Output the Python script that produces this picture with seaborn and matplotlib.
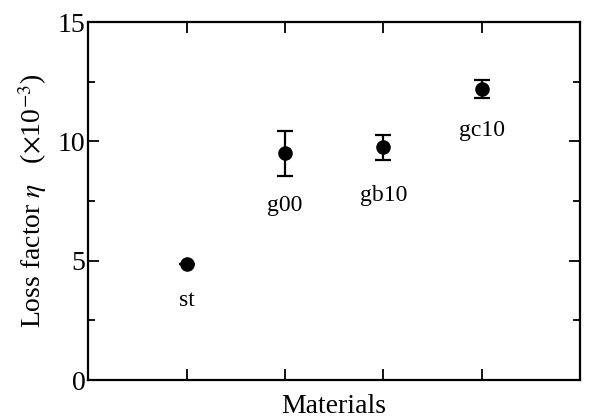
import matplotlib
matplotlib.use("Agg")
import matplotlib.pyplot as plt
import seaborn as sns
import pandas as pd
from matplotlib.ticker import MultipleLocator

materials = ["st", "g00", "gb10", "gc10"]
loss_factor = [4.85, 9.5, 9.75, 12.2]
errors = [0.0, 0.95, 0.52, 0.36]
label_y = [3.35, 7.3, 7.75, 10.47]

sns.set_theme(style="ticks")
plt.rcParams['font.family'] = ['Liberation Serif', 'DejaVu Serif']
plt.rcParams['mathtext.fontset'] = 'stix'
plt.rcParams['text.color'] = 'black'
plt.rcParams['axes.labelcolor'] = 'black'

df = pd.DataFrame({"material": materials, "loss": loss_factor, "err": errors})

fig = plt.figure(figsize=(5.92, 4.19), dpi=100)
ax = fig.add_axes([0.149, 0.093, 0.831, 0.854])

ax.errorbar(range(len(materials)), df["loss"], yerr=df["err"], fmt="none",
            ecolor="black", elinewidth=1.6, capsize=6, capthick=1.6, zorder=2)
sns.scatterplot(data=df, x="material", y="loss", ax=ax, color="black",
                s=110, edgecolor="black", linewidth=0, zorder=3, legend=False)

for i, (m, ly) in enumerate(zip(materials, label_y)):
    ax.text(i, ly, m, ha="center", va="center", fontsize=17, color="black")

ax.set_xlim(-1, 4)
ax.set_ylim(0, 15)
ax.set_xticks(range(len(materials)))
ax.set_xticklabels([])
ax.yaxis.set_major_locator(MultipleLocator(5))
ax.yaxis.set_minor_locator(MultipleLocator(2.5))
ax.tick_params(axis="both", which="both", direction="in", top=True, right=True,
               width=1.3, labelsize=20, color="black", labelcolor="black")
ax.tick_params(axis="both", which="major", length=8, pad=2)
ax.tick_params(axis="y", which="minor", length=5)
for sp in ax.spines.values():
    sp.set_linewidth(1.6)
    sp.set_color("black")

ax.set_xlabel("Materials", fontsize=20, labelpad=8, color="black")
ax.set_ylabel(r"Loss factor $\it{\eta}$   ($\times$10$^{-3}$)", fontsize=20,
              labelpad=6, color="black")

fig.savefig("out.png", dpi=100)
